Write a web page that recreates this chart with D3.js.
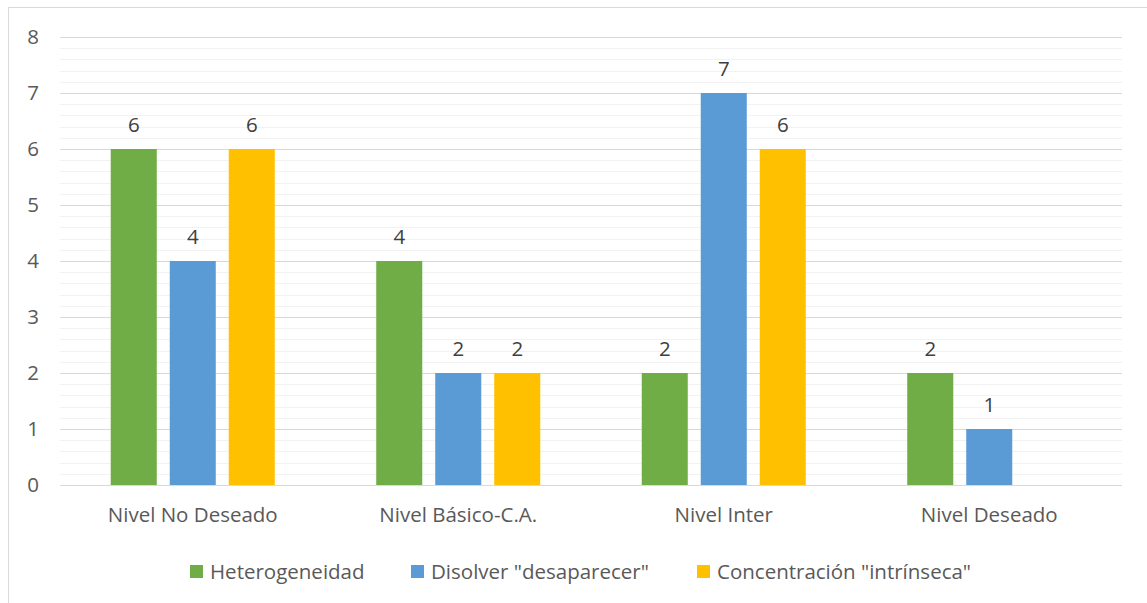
<!DOCTYPE html>
<html>
<head>
<meta charset="utf-8">
<script src="https://cdn.jsdelivr.net/npm/d3@7"></script>
<style>
  body { margin: 0; background: #fff; }
  text { font-family: "Open Sans", Lato, sans-serif; }
</style>
</head>
<body>
<svg id="chart"></svg>
<script>
var categories = ["Nivel No Deseado", "Nivel Básico-C.A.", "Nivel Inter", "Nivel Deseado"];
var seriesNames = ["Heterogeneidad", "Disolver \"desaparecer\"", "Concentración \"intrínseca\""];
var heterogeneidad = [6, 4, 2, 2];
var disolver = [4, 2, 7, 1];
var concentracion = [6, 2, 6, null];
var yTicks = [0, 1, 2, 3, 4, 5, 6, 7, 8];

var colors = ["#70AD47", "#5B9BD5", "#FFC000"];
var seriesValues = [heterogeneidad, disolver, concentracion];

var width = 1147, height = 603;
var margin = {left: 60, right: 25, top: 37, bottom: 118};
var fontSize = "20.5px";

var svg = d3.select("#chart")
    .attr("width", width)
    .attr("height", height);

// chart frame
svg.append("rect")
    .attr("x", 8.5).attr("y", 7.5)
    .attr("width", width - 8).attr("height", height)
    .attr("fill", "none")
    .attr("stroke", "#d9d9d9");

var x = d3.scaleBand()
    .domain(categories)
    .range([margin.left, width - margin.right]);

var x1 = d3.scaleBand()
    .domain(d3.range(seriesNames.length))
    .range([0, x.bandwidth()])
    .paddingInner(0.22)
    .paddingOuter(0.86);

var y = d3.scaleLinear()
    .domain([0, 8])
    .range([height - margin.bottom, margin.top]);

// minor gridlines
var minor = d3.range(0, 8.001, 0.2).filter(v => Math.abs(v - Math.round(v)) > 1e-6);
svg.append("g")
  .selectAll("line")
  .data(minor)
  .enter()
  .append("line")
    .attr("x1", margin.left).attr("x2", width - margin.right)
    .attr("y1", d => Math.round(y(d)) + 0.5)
    .attr("y2", d => Math.round(y(d)) + 0.5)
    .attr("stroke", "#f2f2f2")
    .attr("stroke-width", 1);

// major gridlines
svg.append("g")
  .selectAll("line")
  .data(yTicks)
  .enter()
  .append("line")
    .attr("x1", margin.left).attr("x2", width - margin.right)
    .attr("y1", d => Math.round(y(d)) + 0.5)
    .attr("y2", d => Math.round(y(d)) + 0.5)
    .attr("stroke", "#d9d9d9")
    .attr("stroke-width", 1);

// y axis labels
var yAxis = d3.axisLeft(y).tickValues(yTicks).tickSize(0).tickPadding(0);
var yg = svg.append("g")
    .attr("transform", "translate(39,0)")
    .call(yAxis);
yg.select(".domain").remove();
yg.selectAll("text")
    .attr("fill", "#595959")
    .style("font-size", fontSize)
    .attr("text-anchor", "middle")
    .attr("dx", "-6px");

// x axis labels
var xAxis = d3.axisBottom(x).tickSize(0).tickPadding(0);
var xg = svg.append("g")
    .attr("transform", "translate(0," + (height - margin.bottom + 22) + ")")
    .call(xAxis);
xg.select(".domain").remove();
xg.selectAll("text")
    .attr("fill", "#595959")
    .style("font-size", fontSize);

// bars
var groups = svg.append("g")
  .selectAll("g")
  .data(categories)
  .enter()
  .append("g")
    .attr("transform", d => "translate(" + x(d) + ",0)");

var barData = (c, i) => seriesValues.map((vals, s) => ({s: s, v: vals[i]})).filter(d => d.v != null);

groups.selectAll("rect")
  .data(barData)
  .enter()
  .append("rect")
    .attr("x", d => x1(d.s))
    .attr("y", d => y(d.v))
    .attr("width", x1.bandwidth())
    .attr("height", d => y(0) - y(d.v))
    .attr("fill", d => colors[d.s]);

groups.selectAll("text")
  .data(barData)
  .enter()
  .append("text")
    .attr("x", d => x1(d.s) + x1.bandwidth() / 2)
    .attr("y", d => y(d.v) - 17)
    .attr("text-anchor", "middle")
    .attr("fill", "#404040")
    .style("font-size", fontSize)
    .text(d => d.v);

// legend
var legendX = [190, 411, 697];
var legend = svg.append("g")
  .selectAll("g")
  .data(seriesNames)
  .enter()
  .append("g")
    .attr("transform", (d, i) => "translate(" + legendX[i] + ",565)");

legend.append("rect")
    .attr("width", 13).attr("height", 13)
    .attr("fill", (d, i) => colors[i]);

legend.append("text")
    .attr("x", 20).attr("y", 14)
    .attr("fill", "#595959")
    .style("font-size", fontSize)
    .text(d => d);
</script>
</body>
</html>
